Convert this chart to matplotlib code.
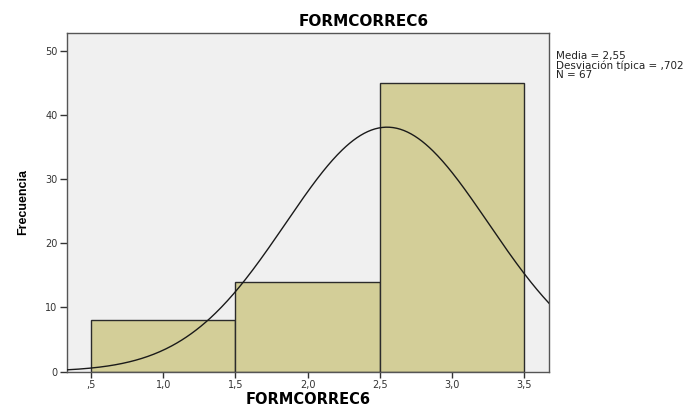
import matplotlib
matplotlib.use("Agg")

import matplotlib.pyplot as plt
import numpy as np

# datos del histograma
bin_edges = [0.5, 1.5, 2.5, 3.5]
counts = [8, 14, 45]
media = 2.55
desv = 0.702
n = 67

xticks = [0.5, 1.0, 1.5, 2.0, 2.5, 3.0, 3.5]
xtick_labels = [",5", "1,0", "1,5", "2,0", "2,5", "3,0", "3,5"]
yticks = [0, 10, 20, 30, 40, 50]

plt.rcParams["font.family"] = ["DejaVu Sans"]

W, H = 692, 409
fig = plt.figure(figsize=(W / 100, H / 100), dpi=100)
# caja del gráfico en píxeles: x 66.7-549, y 33-371.5
ax = fig.add_axes([66.7 / W, (H - 371.5) / H, (549 - 66.7) / W, (371.5 - 33) / H])
ax.set_facecolor("#F0F0F0")

# barras
lefts = bin_edges[:-1]
widths = np.diff(bin_edges)
ax.bar(lefts, counts, width=widths, align="edge",
       color="#D3CE98", edgecolor="#2b2b2b", linewidth=1.0, zorder=2)

# curva normal
xmin, xmax = 0.332, 3.671
xs = np.linspace(xmin, xmax, 400)
binw = widths[0]
ys = n * binw / (desv * np.sqrt(2 * np.pi)) * np.exp(-0.5 * ((xs - media) / desv) ** 2)
ax.plot(xs, ys, color="#1a1a1a", linewidth=1.0, zorder=3)

ax.set_xlim(xmin, xmax)
ax.set_ylim(0, 52.75)
ax.set_xticks(xticks)
ax.set_xticklabels(xtick_labels)
ax.set_yticks(yticks)
ax.tick_params(axis="x", direction="out", length=4, width=1,
               color="#333333", labelsize=7, labelcolor="#333333", pad=2)
ax.tick_params(axis="y", direction="out", length=5, width=1,
               color="#333333", labelsize=7, labelcolor="#333333", pad=1.5)

for s in ax.spines.values():
    s.set_color("#555555")
    s.set_linewidth(1.0)

fig.text(364 / W, 1 - 22 / H, "FORMCORREC6", fontsize=11, fontweight="bold",
         ha="center", va="center")
fig.text(308 / W, 1 - 400 / H, "FORMCORREC6", fontsize=10.5, fontweight="bold",
         ha="center", va="center")
fig.text(23 / W, 1 - 202 / H, "Frecuencia", fontsize=9, fontweight="bold",
         family=["Liberation Sans", "DejaVu Sans"], rotation=90,
         ha="center", va="center")

fig.text(556.5 / W, 1 - 51 / H,
         f"Media = {media:.2f}".replace(".", ",") + "\n"
         + "Desviación típica = ," + f"{desv:.3f}".split(".")[1] + "\n"
         + f"N = {n}",
         fontsize=7.5, va="top", ha="left", linespacing=0.92, color="#222222")

fig.savefig("out.png", dpi=100)
plt.close(fig)
